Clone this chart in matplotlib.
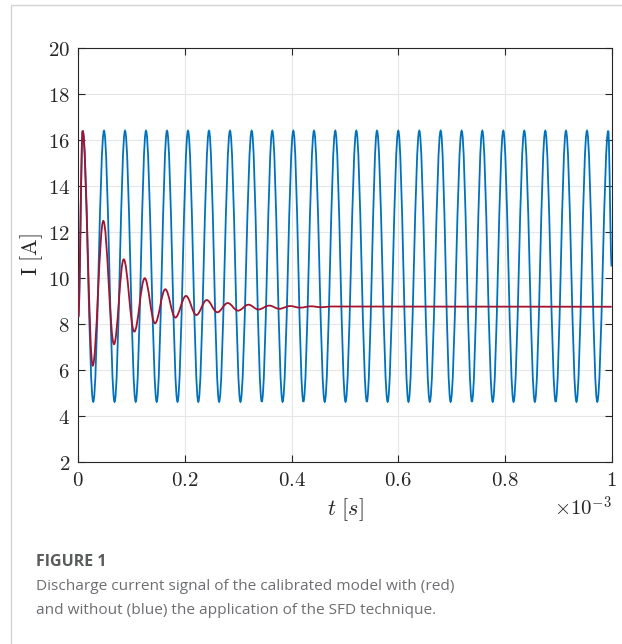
import matplotlib.pyplot as plt
from matplotlib.path import Path
from matplotlib.patches import PathPatch
from matplotlib.lines import Line2D
from matplotlib.ticker import FuncFormatter, MultipleLocator

plt.rcParams['mathtext.fontset'] = 'cm'

# Tempo in unita' di 1e-3 s
blue_peak_t = [0.0082, 0.0482, 0.0876, 0.1269, 0.1663, 0.2057, 0.2450, 0.2844,
               0.3251, 0.3637, 0.4031, 0.4419, 0.4818, 0.5212, 0.5600, 0.5999,
               0.6393, 0.6794, 0.7188, 0.7574, 0.7968, 0.8361, 0.8755, 0.9143,
               0.9537, 0.9936]
blue_trough_t = [0.028, 0.068, 0.1076, 0.147, 0.186, 0.225, 0.264, 0.304,
                 0.344, 0.383, 0.422, 0.462, 0.501, 0.541, 0.580, 0.619,
                 0.659, 0.698, 0.738, 0.777, 0.816, 0.856, 0.895, 0.934, 0.973]
blue_peak_v = 16.4
blue_trough_v = 4.62
blue_start = (0.0, 8.3)
blue_end = (1.0, 10.5)

# Corrente con SFD (rossa): estremi dell'oscillazione smorzata
red_t = [0.0, 0.0082, 0.0270, 0.0469, 0.0669, 0.0851, 0.1050, 0.1245, 0.1438,
         0.1631, 0.1819, 0.2019, 0.2212, 0.2407, 0.2606, 0.2801, 0.2994,
         0.3191, 0.3375, 0.3581, 0.3768, 0.3969, 0.416, 0.436, 0.455, 0.475,
         1.0]
red_v = [8.3, 16.4, 6.19, 12.48, 7.12, 10.81, 7.67, 9.99, 8.03, 9.51, 8.28,
         9.22, 8.39, 9.04, 8.51, 8.91, 8.58, 8.84, 8.63, 8.80, 8.66, 8.78,
         8.71, 8.77, 8.73, 8.76, 8.75]

# Costruisce la serie blu alternando picchi e valli
blue_t = [blue_start[0]]
blue_v = [blue_start[1]]
for i, tp in enumerate(blue_peak_t):
    blue_t.append(tp)
    blue_v.append(blue_peak_v)
    if i < len(blue_trough_t):
        blue_t.append(blue_trough_t[i])
        blue_v.append(blue_trough_v)
blue_t.append(blue_end[0])
blue_v.append(blue_end[1])

K = 0.3642  # punti di controllo per curva tipo coseno


def smooth_path(ts, vs):
    verts = [(ts[0], vs[0])]
    codes = [Path.MOVETO]
    for i in range(len(ts) - 1):
        t0, v0, t1, v1 = ts[i], vs[i], ts[i + 1], vs[i + 1]
        dt = t1 - t0
        verts += [(t0 + K * dt, v0), (t1 - K * dt, v1), (t1, v1)]
        codes += [Path.CURVE4] * 3
    return Path(verts, codes)


fig = plt.figure(figsize=(6.22, 6.44), dpi=100)
ax = fig.add_axes([0.1259, 0.2826, 0.8575, 0.6429])

ax.add_patch(PathPatch(smooth_path(blue_t, blue_v), fill=False,
                       edgecolor='#0072BD', lw=1.3, zorder=3))
ax.add_patch(PathPatch(smooth_path(red_t, red_v), fill=False,
                       edgecolor='#A2142F', lw=1.3, zorder=4))

ax.set_xlim(0, 1)
ax.set_ylim(2, 20)
ax.xaxis.set_major_locator(MultipleLocator(0.2))
ax.yaxis.set_major_locator(MultipleLocator(2))
fmt = FuncFormatter(lambda v, p: r'$%g$' % round(v, 3))
ax.xaxis.set_major_formatter(fmt)
ax.yaxis.set_major_formatter(fmt)
ax.tick_params(direction='in', top=True, right=True, length=5, width=0.8,
               labelsize=15, color='#262626', labelcolor='#262626', pad=6)
ax.grid(True, color='#e6e6e6', lw=0.8)
ax.set_axisbelow(True)
for s in ax.spines.values():
    s.set_color('#262626')
    s.set_linewidth(0.8)

ax.set_xlabel(r'$t\ [s]$', fontsize=16, color='#262626', labelpad=4)
ax.set_ylabel(r'$\mathrm{I\ [A]}$', fontsize=16, color='#262626', labelpad=2)
ax.text(1.0, -0.082, r'$\times10^{-3}$', transform=ax.transAxes, ha='right',
        va='top', fontsize=15, color='#262626')

# Didascalia
fig.text(0.058, 1 - 562 / 644, 'FIGURE 1', fontsize=11.5, fontweight='bold',
         color='#5a5b5d', family='Open Sans', va='center')
fig.text(0.058, 1 - 587 / 644, 'Discharge current signal of the calibrated model with (red)',
         fontsize=11.1, color='#6d6e71', family='Open Sans', va='center')
fig.text(0.058, 1 - 610 / 644, 'and without (blue) the application of the SFD technique.',
         fontsize=11.1, color='#6d6e71', family='Open Sans', va='center')

# Bordo della pagina
fig.add_artist(Line2D([11 / 622, 11 / 622, 1], [0, 1 - 5 / 644, 1 - 5 / 644],
                      transform=fig.transFigure, color='#d4d4d4', lw=1))

plt.savefig('out.png', dpi=100)
